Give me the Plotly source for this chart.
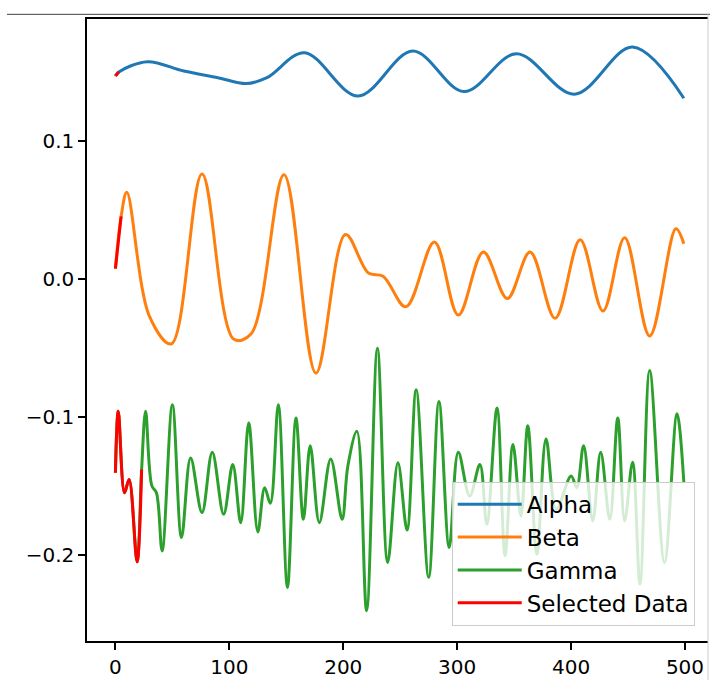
import plotly.graph_objects as go

# ---- data (index 0..499) ----
alpha_x = [0, 3, 28, 60, 90, 115, 133, 166, 213, 261, 306, 352, 403, 454, 499]
alpha_y = [0.1475, 0.1505, 0.1579, 0.1511, 0.1463, 0.1420, 0.1463, 0.1644, 0.1330,
           0.1656, 0.1362, 0.1637, 0.1343, 0.1685, 0.1314]

beta_x = [0, 5, 10, 30, 49, 76, 104, 119, 148, 176, 202, 222, 235, 255, 280, 301,
          323, 344, 364, 386, 408, 428, 447, 469, 492, 499]
beta_y = [0.0077, 0.0456, 0.0631, -0.0272, -0.0470, 0.0764, -0.0436, -0.0398, 0.0759,
          -0.0682, 0.0325, 0.0046, 0.0022, -0.0200, 0.0270, -0.0260, 0.0198, -0.0140,
          0.0198, -0.0284, 0.0287, -0.0231, 0.0301, -0.0412, 0.0366, 0.0258]

gamma_x = [0, 2.5, 8, 12, 19, 23, 26.5, 32, 36, 41, 50, 58, 66, 76, 85, 95, 103, 110,
           117, 125, 131, 136, 143, 151, 158.5, 165, 171, 179, 189, 199, 204, 212,
           220.5, 230, 239, 248, 256, 264, 275, 284, 293, 301, 311, 320, 326, 335, 342,
           349, 356, 362, 370, 378, 387, 400, 405, 411, 419, 426, 434, 441, 447, 454,
           460.5, 469, 482, 493, 499]
gamma_y = [-0.1405, -0.0959, -0.1550, -0.1453, -0.2051, -0.1381, -0.0959, -0.1500,
           -0.1550, -0.1972, -0.0911, -0.1875, -0.1297, -0.1694, -0.1256, -0.1706,
           -0.1345, -0.1767, -0.1043, -0.1834, -0.1513, -0.1627, -0.0911, -0.2237,
           -0.1007, -0.1743, -0.1208, -0.1767, -0.1304, -0.1743, -0.1357, -0.1104,
           -0.2406, -0.0501, -0.2056, -0.1333, -0.1820, -0.0803, -0.2164, -0.0887,
           -0.1947, -0.1256, -0.1574, -0.1345, -0.1779, -0.0935, -0.2008, -0.1200,
           -0.1719, -0.1063, -0.1996, -0.1159, -0.1670, -0.1429, -0.1513, -0.1208,
           -0.1755, -0.1256, -0.1743, -0.1007, -0.1755, -0.1328, -0.2213, -0.0663,
           -0.2056, -0.0976, -0.1477]

series_names = ["Alpha", "Beta", "Gamma"]
series_colors = ["#1f77b4", "#ff7f0e", "#2ca02c"]
selected_end = [3, 5, 23]          # last index of the "Selected Data" part per series
selected_name = "Selected Data"
selected_color = "#ff0000"

x_ticks = [0, 100, 200, 300, 400, 500]
y_ticks = [-0.2, -0.1, 0.0, 0.1]
y_ticktext = ["\u22120.2", "\u22120.1", "0.0", "0.1"]

FONT = "DejaVu Sans"

fig = go.Figure()
all_x = [alpha_x, beta_x, gamma_x]
all_y = [alpha_y, beta_y, gamma_y]
for name, color, xs, ys in zip(series_names, series_colors, all_x, all_y):
    fig.add_trace(go.Scatter(x=xs, y=ys, mode="lines", name=name,
                             line=dict(color=color, width=3, shape="spline", smoothing=1.0)))

sx, sy = [], []
for xs, ys, end in zip(all_x, all_y, selected_end):
    for xv, yv in zip(xs, ys):
        if xv <= end:
            sx.append(xv)
            sy.append(yv)
    sx.append(None)
    sy.append(None)
fig.add_trace(go.Scatter(x=sx, y=sy, mode="lines", name=selected_name, connectgaps=False,
                         line=dict(color=selected_color, width=3, shape="spline", smoothing=1.0)))

axis_common = dict(showgrid=False, zeroline=False, showline=True, linecolor="black",
                   linewidth=1.5, ticks="outside", ticklen=7, tickwidth=1.5,
                   tickcolor="black", tickfont=dict(family=FONT, size=20, color="black"))

fig.update_layout(
    width=710, height=680,
    margin=dict(l=87, r=2, t=19, b=39),
    paper_bgcolor="white", plot_bgcolor="white",
    font=dict(family=FONT, color="black"),
    xaxis=dict(range=[-24.95, 520.2], tickvals=x_ticks, mirror=True, **axis_common),
    yaxis=dict(range=[-0.2626, 0.1889], tickvals=y_ticks, ticktext=y_ticktext,
               mirror=False, **axis_common),
    legend=dict(x=0.5873, y=0.2561, xanchor="left", yanchor="top",
                bgcolor="rgba(255,255,255,0.8)", bordercolor="#cccccc", borderwidth=1,
                font=dict(family=FONT, size=23, color="black"), itemwidth=64,
                entrywidth=182, entrywidthmode="pixels"),
    showlegend=True,
    hovermode=False,
    shapes=[
        dict(type="line", xref="paper", yref="paper", x0=-0.1288, x1=1.01,
             y0=1.0075, y1=1.0075, line=dict(color="#444444", width=1)),
        dict(type="line", xref="paper", yref="paper", x0=1.0, x1=1.0,
             y0=1.0075, y1=-0.07, line=dict(color="#cccccc", width=1)),
    ],
)

fig.write_html("out.html")
